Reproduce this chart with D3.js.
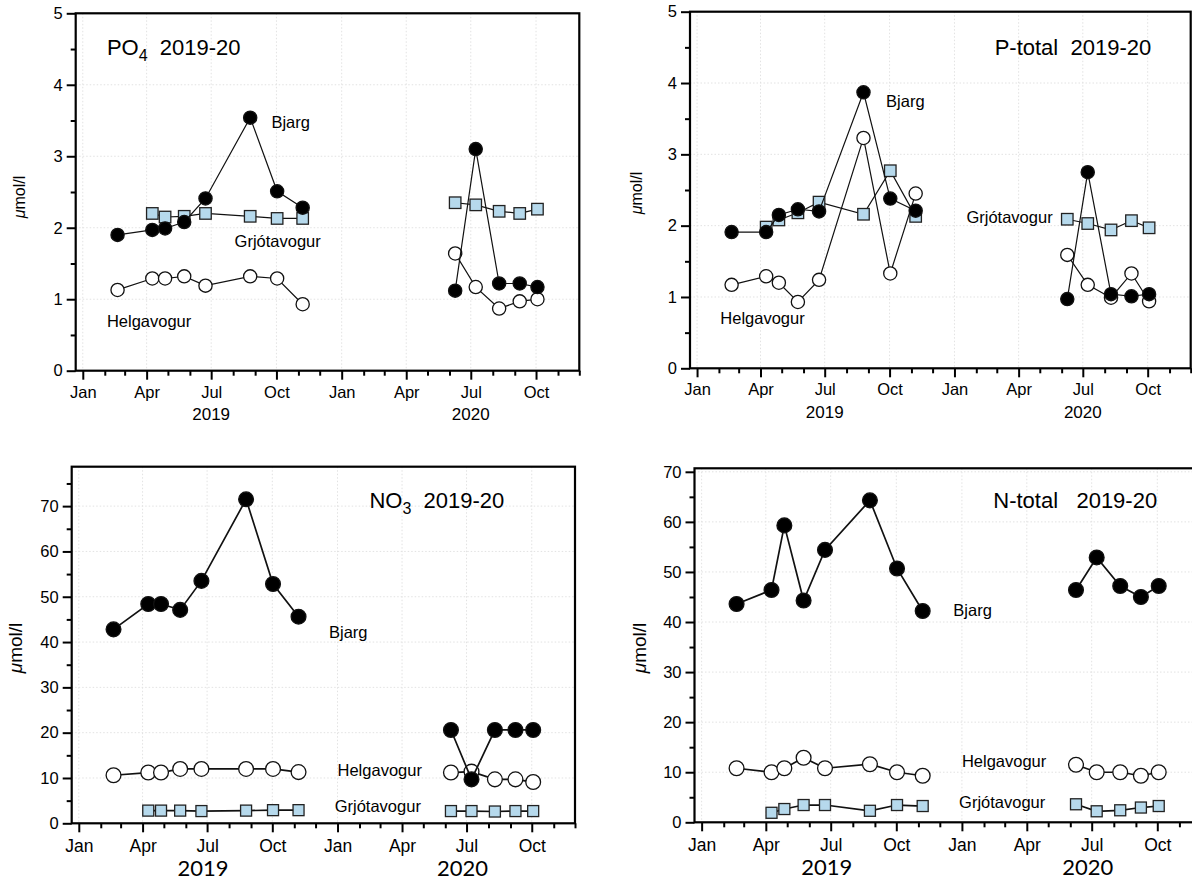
<!DOCTYPE html>
<html><head><meta charset="utf-8">
<script src="https://cdn.jsdelivr.net/npm/d3@7"></script>
<style>
body{margin:0;background:#fff}
svg text{font-family:"Liberation Sans",Arial,sans-serif;fill:#000}
</style>
</head><body>
<svg id="c" width="1192" height="881"></svg>
<script>
// ---------- data ----------
const dates2019 = ["2019-02-19","2019-04-09","2019-04-27","2019-05-24","2019-06-23","2019-08-25","2019-10-02","2019-11-07"];
const dates2020 = ["2020-06-09","2020-07-08","2020-08-10","2020-09-08","2020-10-03"];
const datesGrjot2019 = dates2019.slice(1); // Grjótavogur sampled from April
const quarterLabels = ["Jan","Apr","Jul","Oct"];
const yearLabels = ["2019","2020"];
const stations = ["Helgavogur","Grjótavogur","Bjarg"];

// PO4 (µmol/l)
const po4Helga2019 = [1.13,1.29,1.29,1.32,1.19,1.32,1.29,0.93];
const po4Helga2020 = [1.64,1.17,0.87,0.97,1.00];
const po4Grjot2019 = [2.20,2.15,2.16,2.20,2.16,2.13,2.13];
const po4Grjot2020 = [2.35,2.32,2.23,2.20,2.26];
const po4Bjarg2019 = [1.90,1.97,1.99,2.08,2.41,3.54,2.51,2.28];
const po4Bjarg2020 = [1.12,3.10,1.22,1.22,1.17];

// P-total
const ptotHelga2019 = [1.17,1.29,1.20,0.93,1.24,3.23,1.33,2.45];
const ptotHelga2020 = [1.59,1.17,0.99,1.33,0.94];
const ptotGrjot2019 = [1.98,2.08,2.18,2.33,2.16,2.77,2.13];
const ptotGrjot2020 = [2.09,2.03,1.94,2.07,1.97];
const ptotBjarg2019 = [1.91,1.91,2.15,2.23,2.20,3.87,2.38,2.21];
const ptotBjarg2020 = [0.97,2.75,1.04,1.01,1.04];

// NO3
const no3Helga2019 = [10.6,11.2,11.2,12.0,12.0,12.0,12.0,11.3];
const no3Helga2020 = [11.2,11.4,9.7,9.7,9.1];
const no3Grjot2019 = [2.8,2.8,2.8,2.7,2.8,2.9,2.9];
const no3Grjot2020 = [2.7,2.7,2.6,2.7,2.7];
const no3Bjarg2019 = [42.8,48.4,48.4,47.1,53.5,71.5,52.8,45.6];
const no3Bjarg2020 = [20.6,9.7,20.6,20.6,20.6];

// N-total
const ntotHelga2019 = [10.8,10.0,10.8,12.9,10.8,11.6,10.0,9.3];
const ntotHelga2020 = [11.5,10.0,10.0,9.3,10.0];
const ntotGrjot2019 = [1.9,2.65,3.45,3.45,2.3,3.45,3.25];
const ntotGrjot2020 = [3.6,2.2,2.4,2.95,3.25];
const ntotBjarg2019 = [43.6,46.4,59.3,44.3,54.4,64.3,50.7,42.2];
const ntotBjarg2020 = [46.4,52.9,47.2,45.0,47.2];

// ---------- layout ----------
const parse = d3.timeParse("%Y-%m-%d");
const xDomain = [parse("2018-12-22"), parse("2020-12-01")];
const svg = d3.select("#c");

const panels = [
  {title:[["PO",0],["4",1],["  2019-20",0]], titlePos:["2019-02-04",4.42],
   box:{l:75.7,r:579.3,t:13.3,b:370.7}, yMax:5, major:1, minor:0.5, minorMax:5,
   series:{Helgavogur:[po4Helga2019,po4Helga2020],"Grjótavogur":[po4Grjot2019,po4Grjot2020],Bjarg:[po4Bjarg2019,po4Bjarg2020]},
   labels:{Bjarg:["2019-09-24",3.39],"Grjótavogur":["2019-08-03",1.73],Helgavogur:["2019-02-04",0.61]},
   ylab:[21,197,16], big:false},
  {title:[["P-total  2019-20",0]], titlePos:["2020-02-27",4.39],
   box:{l:690,r:1190.7,t:11.7,b:368.3}, yMax:5, major:1, minor:0.5, minorMax:5,
   series:{Helgavogur:[ptotHelga2019,ptotHelga2020],"Grjótavogur":[ptotGrjot2019,ptotGrjot2020],Bjarg:[ptotBjarg2019,ptotBjarg2020]},
   labels:{Bjarg:["2019-09-26",3.67],"Grjótavogur":["2020-01-18",2.04],Helgavogur:["2019-02-03",0.62]},
   ylab:[638,193,16], big:false},
  {title:[["NO",0],["3",1],["  2019-20",0]], titlePos:["2020-02-15",69.6],
   box:{l:71.7,r:575,t:466.7,b:823.3}, yMax:78.7, major:10, minor:5, minorMax:75,
   series:{Helgavogur:[no3Helga2019,no3Helga2020],"Grjótavogur":[no3Grjot2019,no3Grjot2020],Bjarg:[no3Bjarg2019,no3Bjarg2020]},
   labels:{Bjarg:["2019-12-20",40.9],"Grjótavogur":["2019-12-28",2.5],Helgavogur:["2020-01-01",10.4]},
   ylab:[17,648,19], big:true},
  {title:[["N-total   2019-20",0]], titlePos:["2020-02-14",62.7],
   box:{l:694.5,r:1200.8,t:468.3,b:822.3}, yMax:70.7, major:10, minor:5, minorMax:65,
   series:{Helgavogur:[ntotHelga2019,ntotHelga2020],"Grjótavogur":[ntotGrjot2019,ntotGrjot2020],Bjarg:[ntotBjarg2019,ntotBjarg2020]},
   labels:{Bjarg:["2019-12-20",41.2],"Grjótavogur":["2019-12-28",2.9],Helgavogur:["2020-01-01",11.1]},
   ylab:[641,648,19], big:true}
];

const style = {
  Helgavogur:{shape:"circle", fill:"#fff"},
  "Grjótavogur":{shape:"square", fill:"#b6d9ec"},
  Bjarg:{shape:"circle", fill:"#000"}
};

panels.forEach(p => {
  const B = p.box;
  const x = d3.scaleTime().domain(xDomain).range([B.l, B.r]);
  const y = d3.scaleLinear().domain([0, p.yMax]).range([B.b, B.t]);
  const g = svg.append("g");

  const quarters = d3.timeMonth.every(3).range(parse("2019-01-01"), xDomain[1]);
  const months = d3.timeMonth.range(parse("2019-01-01"), d3.timeDay.offset(xDomain[1],1));
  const majorY = d3.range(0, p.yMax + 1e-9, p.major);
  const minorY = d3.range(p.minor, p.minorMax + 1e-9, p.major);

  // grid
  g.append("g").selectAll("line").data(quarters).join("line")
    .attr("x1", d => x(d)).attr("x2", d => x(d)).attr("y1", B.t).attr("y2", B.b)
    .attr("stroke", "#e2e2e2").attr("stroke-width", 1).attr("stroke-dasharray", "1.5,2");
  g.append("g").selectAll("line").data(majorY.filter(v => v > 0)).join("line")
    .attr("x1", B.l).attr("x2", B.r).attr("y1", d => y(d)).attr("y2", d => y(d))
    .attr("stroke", "#e2e2e2").attr("stroke-width", 1).attr("stroke-dasharray", "1.5,2");

  // y axis
  const yAx = g.append("g").attr("transform", `translate(${B.l},0)`)
    .call(d3.axisLeft(y).tickValues(majorY).tickFormat(d3.format("d")).tickSize(9).tickPadding(4));
  yAx.select(".domain").remove();
  yAx.selectAll(".tick line").attr("stroke", "#000").attr("stroke-width", 2);
  yAx.selectAll(".tick text").attr("font-size", 16.5).attr("fill", "#000")
    .style("font-family", "Liberation Sans, Arial, sans-serif");
  const yMin = g.append("g").attr("transform", `translate(${B.l},0)`)
    .call(d3.axisLeft(y).tickValues(minorY).tickFormat("").tickSize(5));
  yMin.select(".domain").remove();
  yMin.selectAll(".tick line").attr("stroke", "#000").attr("stroke-width", 2);

  // x axis
  const xAx = g.append("g").attr("transform", `translate(0,${B.b})`)
    .call(d3.axisBottom(x).tickValues(quarters).tickFormat(d => quarterLabels[d.getMonth()/3]).tickSize(9));
  xAx.select(".domain").remove();
  xAx.selectAll(".tick line").attr("stroke", "#000").attr("stroke-width", 2);
  xAx.selectAll(".tick text").attr("font-size", p.big ? 17.5 : 16.5).attr("fill", "#000")
    .attr("y", p.big ? 28.5 : 27).attr("dy", 0)
    .style("font-family", "Liberation Sans, Arial, sans-serif");
  const xMin = g.append("g").attr("transform", `translate(0,${B.b})`)
    .call(d3.axisBottom(x).tickValues(months.filter(m => m.getMonth() % 3 !== 0)).tickFormat("").tickSize(5));
  xMin.select(".domain").remove();
  xMin.selectAll(".tick line").attr("stroke", "#000").attr("stroke-width", 2);

  // year labels
  g.selectAll(".yr").data(yearLabels).join("text")
    .attr("x", d => x(parse(d + "-07-01")) + (p.big ? -4 : 0))
    .attr("y", B.b + (p.big ? 52.5 : 49.5))
    .attr("text-anchor", "middle")
    .attr("font-size", p.big ? 22 : 17)
    .style("font-family", p.big ? "Lato, 'Noto Sans', sans-serif" : "Liberation Sans, Arial, sans-serif")
    .text(d => d);

  // frame
  g.append("rect").attr("x", B.l).attr("y", B.t).attr("width", B.r - B.l).attr("height", B.b - B.t)
    .attr("fill", "none").attr("stroke", "#000").attr("stroke-width", 2.2);

  // y label
  const yl = g.append("text")
    .attr("transform", `translate(${p.ylab[0]},${p.ylab[1]}) rotate(-90)`)
    .attr("text-anchor", "middle").attr("dominant-baseline", "middle")
    .attr("font-size", p.ylab[2]);
  yl.append("tspan").attr("font-style", "italic").text("μ");
  yl.append("tspan").text("mol/l");

  // series
  const lw = p.big ? 1.7 : 1.2;
  const r = p.big ? 7.4 : 6.6;
  const sq = p.big ? 11 : 11.5;
  stations.forEach(name => {
    const st = style[name];
    const [v19, v20] = p.series[name];
    const d19 = name === "Grjótavogur" ? datesGrjot2019 : dates2019;
    const segs = [d19.map((d,i) => [parse(d), v19[i]]), dates2020.map((d,i) => [parse(d), v20[i]])];
    const line = d3.line().x(d => x(d[0])).y(d => y(d[1]));
    segs.forEach(seg => {
      g.append("path").attr("d", line(seg)).attr("fill", "none")
        .attr("stroke", "#111").attr("stroke-width", lw);
      if (st.shape === "circle") {
        g.append("g").selectAll("circle").data(seg).join("circle")
          .attr("cx", d => x(d[0])).attr("cy", d => y(d[1])).attr("r", r)
          .attr("fill", st.fill).attr("stroke", "#111").attr("stroke-width", 1.3);
      } else {
        g.append("g").selectAll("rect").data(seg).join("rect")
          .attr("x", d => x(d[0]) - sq/2).attr("y", d => y(d[1]) - sq/2)
          .attr("width", sq).attr("height", sq)
          .attr("fill", st.fill).attr("stroke", "#222").attr("stroke-width", 1.3);
      }
    });
    const lab = p.labels[name];
    g.append("text").attr("x", x(parse(lab[0]))).attr("y", y(lab[1]))
      .attr("font-size", 16.5).text(name);
  });

  // title
  const tt = g.append("text").attr("x", x(parse(p.titlePos[0]))).attr("y", y(p.titlePos[1]))
    .attr("font-size", 22).attr("xml:space", "preserve").style("white-space", "pre");
  p.title.forEach(([s, sub], i) => {
    const ts = tt.append("tspan").text(s);
    if (sub) ts.attr("font-size", 16).attr("dy", 6);
    else if (i > 0 && p.title[i-1][1]) ts.attr("dy", -6);
  });
});
</script>
</body></html>
